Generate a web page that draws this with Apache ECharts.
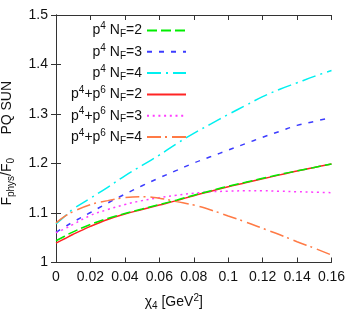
<!DOCTYPE html>
<html><head><meta charset="utf-8">
<script src="https://cdn.jsdelivr.net/npm/echarts@6/dist/echarts.min.js"></script>
<style>html,body{margin:0;padding:0;background:#fff}#c{width:357px;height:323px}</style>
</head><body><div id="c"></div>
<script>
const xs = [0, 0.005, 0.01, 0.02, 0.03, 0.04, 0.05, 0.06, 0.07, 0.08, 0.09, 0.10, 0.11, 0.12, 0.13, 0.14, 0.15, 0.16];
const p4NF2   = [1.044, 1.053, 1.062, 1.077, 1.089, 1.099, 1.108, 1.117, 1.126, 1.136, 1.145, 1.154, 1.162, 1.170, 1.178, 1.185, 1.192, 1.199];
const p4NF3   = [1.061, 1.072, 1.082, 1.101, 1.120, 1.138, 1.155, 1.171, 1.186, 1.201, 1.214, 1.227, 1.240, 1.253, 1.265, 1.277, 1.285, 1.293];
const p4NF4   = [1.078, 1.093, 1.108, 1.130, 1.152, 1.175, 1.196, 1.217, 1.240, 1.261, 1.280, 1.299, 1.317, 1.335, 1.350, 1.363, 1.376, 1.388];
const p46NF2  = [1.039, 1.048, 1.057, 1.073, 1.087, 1.098, 1.107, 1.116, 1.125, 1.135, 1.144, 1.153, 1.161, 1.169, 1.177, 1.185, 1.192, 1.199];
const p46NF3  = [1.060, 1.068, 1.077, 1.095, 1.107, 1.117, 1.125, 1.131, 1.136, 1.140, 1.143, 1.144, 1.145, 1.145, 1.144, 1.143, 1.142, 1.141];
const p46NF4  = [1.080, 1.093, 1.103, 1.117, 1.125, 1.131, 1.133, 1.130, 1.123, 1.116, 1.106, 1.094, 1.082, 1.069, 1.056, 1.042, 1.029, 1.015];
const names = ['p4 NF=2', 'p4 NF=3', 'p4 NF=4', 'p4+p6 NF=2', 'p4+p6 NF=3', 'p4+p6 NF=4'];
const xTicks = ['0', '0.02', '0.04', '0.06', '0.08', '0.1', '0.12', '0.14', '0.16'];
const yTicks = ['1', '1.1', '1.2', '1.3', '1.4', '1.5'];

const FONT = 'Liberation Sans, Arial, sans-serif';
const chart = echarts.init(document.getElementById('c'), null, {renderer: 'canvas'});
const pair = a => xs.map((x, i) => [x, a[i]]);
const styles = [
  {color: '#00ee00', type: [10, 4]},
  {color: '#3c3cff', type: [5, 7]},
  {color: '#00f0f0', type: [14, 5, 2, 5]},
  {color: '#ff2424', type: 'solid'},
  {color: '#ff3cff', type: [2, 3.7]},
  {color: '#ff7a45', type: [14, 4, 2, 5]}
];
const datas = [p4NF2, p4NF3, p4NF4, p46NF2, p46NF3, p46NF4];
const series = datas.map((d, i) => ({
  name: names[i], type: 'line', data: pair(d), smooth: 0.4, showSymbol: false, symbol: 'none',
  xAxisIndex: 0, yAxisIndex: 0,
  lineStyle: {color: styles[i].color, width: 1.5, type: styles[i].type},
  itemStyle: {color: styles[i].color},
  z: 3 + (i === 0 ? 1 : 0)
}));
const rich = {
  t: {fontSize: 14, fontFamily: FONT, color: '#111', lineHeight: 18},
  sup: {fontSize: 10, fontFamily: FONT, color: '#111', lineHeight: 10, verticalAlign: 'top'},
  sub: {fontSize: 10, fontFamily: FONT, color: '#111', lineHeight: 10, verticalAlign: 'bottom'}
};
function legendFmt(name) {
  const nf = name.slice(-1);
  const pre = name.indexOf('p6') >= 0 ? '{t|p}{sup|4}{t|+p}{sup|6}' : '{t|p}{sup|4}';
  return pre + '{t| N}{sub|F}{t|=' + nf + '}';
}
const axisLineStyle = {color: '#333', width: 1};
const option = {
  animation: false,
  backgroundColor: '#fff',
  grid: {left: 56, right: 25.5, top: 15, bottom: 60.5, containLabel: false, outerBoundsMode: 'none'},
  legend: {
    data: names,
    orient: 'vertical', right: 170, top: 21.5, align: 'right', padding: 0,
    itemWidth: 39, itemHeight: 18, itemGap: 3.3,
    itemStyle: {opacity: 0, borderWidth: 0},
    formatter: legendFmt,
    textStyle: {rich: rich},
    selectedMode: false
  },
  xAxis: [{
    type: 'value', min: 0, max: 0.16, interval: 0.02, position: 'bottom',
    axisLine: {show: true, lineStyle: axisLineStyle},
    axisTick: {show: true, inside: true, length: 5, lineStyle: axisLineStyle},
    splitLine: {show: false},
    axisLabel: {margin: 8, fontSize: 14, fontFamily: FONT, color: '#111',
      formatter: (v) => { const i = Math.round(v / 0.02); return xTicks[i] !== undefined ? xTicks[i] : ''; }},
    name: '{t|χ}{sub|4}{t| [GeV}{sup|2}{t|]}', nameLocation: 'middle', nameGap: 31,
    nameTextStyle: {rich: rich, padding: [0, 40, 0, 0]}
  }, {
    type: 'value', min: 0, max: 0.16, interval: 0.02, position: 'top',
    axisLine: {show: true, lineStyle: axisLineStyle},
    axisTick: {show: true, inside: true, length: 5, lineStyle: axisLineStyle},
    axisLabel: {show: false}, splitLine: {show: false}
  }],
  yAxis: [{
    type: 'value', min: 1, max: 1.5, interval: 0.1, position: 'left',
    axisLine: {show: true, lineStyle: axisLineStyle},
    axisTick: {show: true, inside: true, length: 5, lineStyle: axisLineStyle},
    splitLine: {show: false},
    axisLabel: {margin: 8, fontSize: 14, fontFamily: FONT, color: '#111',
      formatter: (v) => { const i = Math.round((v - 1) / 0.1); return yTicks[i] !== undefined ? yTicks[i] : ''; }},
    name: '{t|F}{sub|phys}{t|/F}{sub|0}{t|      PQ SUN}', nameLocation: 'middle', nameGap: 40, nameRotate: 90,
    nameTextStyle: {rich: rich, padding: [0, 9, 0, 0]}
  }, {
    type: 'value', min: 1, max: 1.5, interval: 0.1, position: 'right',
    axisLine: {show: true, lineStyle: axisLineStyle},
    axisTick: {show: true, inside: true, length: 5, lineStyle: axisLineStyle},
    axisLabel: {show: false}, splitLine: {show: false}
  }],
  series: series
};
chart.setOption(option);
</script></body></html>
